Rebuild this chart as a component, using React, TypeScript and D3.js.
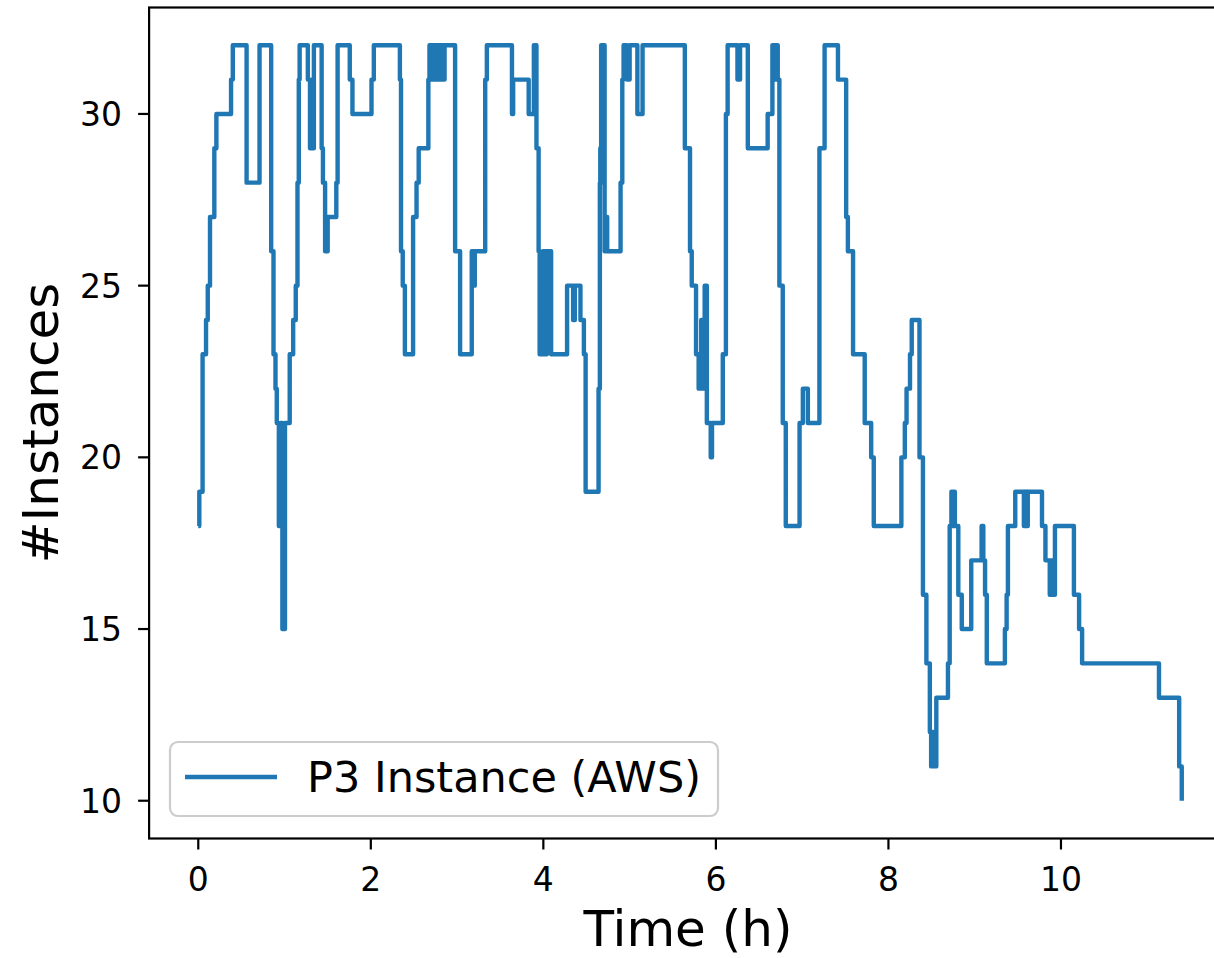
import * as d3 from "d3";

// step times (h) and instance counts (steps-post)
const TIMES = [
  0, 0.012, 0.05, 0.09, 0.11, 0.136, 0.186, 0.21, 0.38, 0.4, 0.56, 0.71, 0.845, 0.872, 0.895, 0.91, 0.934,
  0.955, 0.975, 1.005, 1.06, 1.1, 1.13, 1.15, 1.165, 1.175, 1.27, 1.295, 1.31, 1.325, 1.34, 1.43, 1.445,
  1.47, 1.5, 1.6, 1.615, 1.756, 1.787, 2.008, 2.035, 2.337, 2.35, 2.37, 2.395, 2.49, 2.53, 2.555, 2.667,
  2.68, 2.7, 2.715, 2.73, 2.745, 2.76, 2.775, 2.8, 2.815, 2.84, 2.855, 2.977, 3.035, 3.17, 3.19, 3.205,
  3.326, 3.345, 3.636, 3.65, 3.83, 3.89, 3.92, 3.945, 3.957, 3.996, 4.02, 4.04, 4.09, 4.275, 4.345, 4.365,
  4.43, 4.47, 4.49, 4.64, 4.655, 4.66, 4.67, 4.685, 4.695, 4.71, 4.725, 4.74, 4.895, 4.915, 4.93, 4.97,
  5.0, 5.09, 5.15, 5.64, 5.7, 5.72, 5.77, 5.8, 5.83, 5.85, 5.87, 5.895, 5.94, 5.955, 6.08, 6.116, 6.136,
  6.25, 6.28, 6.37, 6.6, 6.655, 6.67, 6.685, 6.717, 6.736, 6.775, 6.81, 6.97, 7.008, 7.066, 7.2, 7.26,
  7.415, 7.51, 7.53, 7.59, 7.725, 7.8, 7.83, 8.15, 8.19, 8.21, 8.25, 8.27, 8.36, 8.4, 8.44, 8.48, 8.495,
  8.51, 8.52, 8.555, 8.69, 8.71, 8.73, 8.74, 8.76, 8.77, 8.81, 8.85, 8.96, 9.08, 9.1, 9.12, 9.14, 9.35,
  9.37, 9.385, 9.47, 9.57, 9.585, 9.6, 9.615, 9.78, 9.82, 9.87, 9.89, 9.9, 9.93, 10.15, 10.21, 10.245,
  11.136, 11.37, 11.4,
];
const COUNTS = [
  18, 19, 23, 24, 25, 27, 29, 30, 31, 32, 28, 32, 26, 23, 22, 21, 18,
  21, 15, 21, 23, 24, 25, 28, 31, 32, 31, 29, 31, 29, 32, 29, 28,
  26, 27, 28, 32, 31, 30, 31, 32, 31, 26, 25, 23, 27, 28, 29, 31,
  32, 31, 32, 31, 32, 31, 32, 31, 32, 31, 32, 26, 23, 26, 25, 26,
  31, 32, 30, 31, 30, 32, 29, 26, 23, 26, 23, 26, 23, 25, 24, 25,
  24, 23, 19, 22, 28, 29, 32, 28, 32, 26, 27, 26, 28, 31, 32, 31,
  32, 30, 32, 29, 26, 25, 23, 22, 24, 22, 25, 21, 20, 21, 23, 30, 32,
  31, 32, 29, 30, 32, 31, 32, 31, 25, 21, 18, 21, 22, 21, 29, 32,
  31, 27, 26, 23, 21, 20, 18, 20, 21, 22, 23, 24, 20, 16, 14, 12, 11,
  12, 11, 13, 14, 18, 19, 18, 19, 18, 16, 15, 17, 18, 17, 16, 14, 15,
  16, 18, 19, 18, 19, 18, 19, 18, 17, 16, 17, 16, 18, 16, 15, 14,
  13, 11, 10,
];
const X_TICKS = [0, 2, 4, 6, 8, 10];
const Y_TICKS = [10, 15, 20, 25, 30];
const SERIES_LABEL = "P3 Instance (AWS)";

const W = 1214;
const H = 958;
const FONT = "DejaVu Sans, sans-serif";
const BLUE = "#1f77b4";

export default function App() {
  const points = TIMES.map((t, i) => ({ t, v: COUNTS[i] }));

  // matplotlib-style 5% margins on both axes
  const tMax = d3.max(TIMES) as number;
  const x = d3
    .scaleLinear()
    .domain([-0.05 * tMax, tMax * 1.05])
    .range([149.1, 149.1 + tMax * 1.1 * 86.27]);
  const vMin = d3.min(COUNTS) as number;
  const vMax = d3.max(COUNTS) as number;
  const pad = (vMax - vMin) * 0.05;
  const y = d3.scaleLinear().domain([vMin - pad, vMax + pad]).range([838.5, 7.5]);

  const line = d3
    .line<{ t: number; v: number }>()
    .x((d) => x(d.t))
    .y((d) => y(d.v))
    .curve(d3.curveStepAfter);

  const [x0, x1] = x.range();
  const [yb, yt] = y.range();

  return (
    <div>
      <style>{`body{margin:0}`}</style>
      <svg width={W} height={H} style={{ display: "block", background: "#fff" }}>
        <defs>
          <clipPath id="plot">
            <rect x={x0} y={yt} width={x1 - x0} height={yb - yt} />
          </clipPath>
        </defs>

        <path
          d={line(points) ?? ""}
          fill="none"
          stroke={BLUE}
          strokeWidth={4.4}
          strokeLinejoin="round"
          clipPath="url(#plot)"
        />

        {/* frame */}
        <rect x={x0} y={yt} width={x1 - x0} height={yb - yt} fill="none" stroke="#000" strokeWidth={2.2} />

        {/* x ticks */}
        {X_TICKS.map((t) => (
          <g key={`xt${t}`} transform={`translate(${x(t)},${yb})`}>
            <line y2={11} stroke="#000" strokeWidth={2.2} />
            <text y={52} textAnchor="middle" fontFamily={FONT} fontSize={33} fill="#000">
              {t}
            </text>
          </g>
        ))}

        {/* y ticks */}
        {Y_TICKS.map((v) => (
          <g key={`yt${v}`} transform={`translate(${x0},${y(v)})`}>
            <line x2={-11} stroke="#000" strokeWidth={2.2} />
            <text x={-27} dy="0.36em" textAnchor="end" fontFamily={FONT} fontSize={33} fill="#000">
              {v}
            </text>
          </g>
        ))}

        {/* axis labels */}
        <text x={688} y={946} textAnchor="middle" fontFamily={FONT} fontSize={50} fill="#000">
          Time (h)
        </text>
        <text
          transform={`translate(58,${(yt + yb) / 2}) rotate(-90)`}
          textAnchor="middle"
          fontFamily={FONT}
          fontSize={50}
          fill="#000"
        >
          #Instances
        </text>

        {/* legend */}
        <g>
          <rect x={170} y={742} width={548} height={74} rx={8} fill="#fff" fillOpacity={0.8} stroke="#cccccc" strokeWidth={2.2} />
          <line x1={185} x2={277} y1={777} y2={777} stroke={BLUE} strokeWidth={4.4} />
          <text x={307} y={792} fontFamily={FONT} fontSize={43} fill="#000">
            {SERIES_LABEL}
          </text>
        </g>
      </svg>
    </div>
  );
}
